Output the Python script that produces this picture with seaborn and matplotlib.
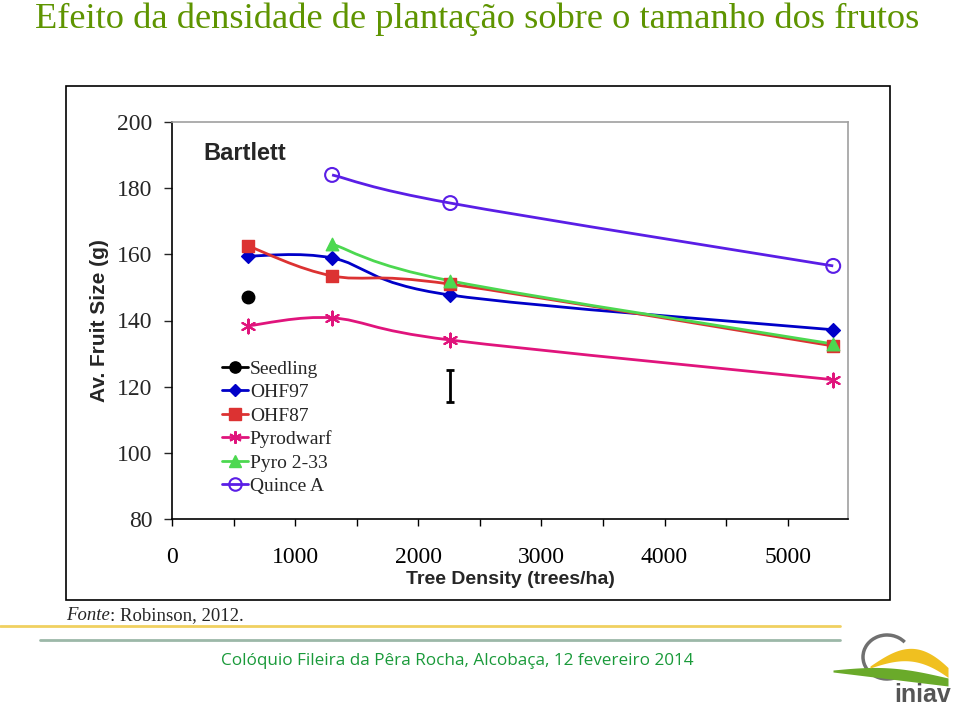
import numpy as np
import pandas as pd
import seaborn as sns
import matplotlib.pyplot as plt
from matplotlib.lines import Line2D
from matplotlib.patches import Arc, PathPatch
from matplotlib.path import Path

# dados (Robinson, 2012 - Bartlett)
seedling_x = [620]
seedling_y = [147.1]
ohf97_x = [620, 1300, 2260, 5370]
ohf97_y = [159.5, 158.9, 147.7, 137.2]
ohf87_x = [620, 1300, 2260, 5370]
ohf87_y = [162.5, 153.5, 151.0, 132.3]
pyrodwarf_x = [620, 1300, 2260, 5370]
pyrodwarf_y = [138.4, 140.8, 134.1, 122.1]
pyro233_x = [1300, 2260, 5370]
pyro233_y = [163.1, 152.0, 132.9]
quince_x = [1300, 2260, 5370]
quince_y = [184.0, 175.5, 156.5]

# barra LSD
lsd_x = 2260
lsd_center = 120.25
lsd_half = 4.85

series = ['Seedling', 'OHF97', 'OHF87', 'Pyrodwarf', 'Pyro 2-33', 'Quince A']
xs = [seedling_x, ohf97_x, ohf87_x, pyrodwarf_x, pyro233_x, quince_x]
ys = [seedling_y, ohf97_y, ohf87_y, pyrodwarf_y, pyro233_y, quince_y]

df = pd.concat([pd.DataFrame({'density': x, 'size': y, 'rootstock': s})
                for s, x, y in zip(series, xs, ys)], ignore_index=True)

cores = {'Seedling': '#000000', 'OHF97': '#0000C8', 'OHF87': '#DC3232',
         'Pyrodwarf': '#E0147C', 'Pyro 2-33': '#4CD850', 'Quince A': '#5A1EE6'}
marcadores = {'Seedling': 'o', 'OHF97': 'D', 'OHF87': 's',
              'Pyrodwarf': (6, 2, 0), 'Pyro 2-33': '^', 'Quince A': 'o'}
tam = {'Seedling': 9, 'OHF97': 7, 'OHF87': 9, 'Pyrodwarf': 10, 'Pyro 2-33': 9, 'Quince A': 10}


def linha_suave(x, y):
    # curva suavizada tipo Excel (Catmull-Rom em Bezier)
    p = np.column_stack([x, y]).astype(float)
    n = len(p)
    verts = [p[0]]
    codes = [Path.MOVETO]
    for i in range(n - 1):
        p0 = p[i - 1] if i > 0 else p[i]
        p3 = p[i + 2] if i + 2 < n else p[i + 1]
        verts += [p[i] + (p[i + 1] - p0) / 6, p[i + 1] - (p3 - p[i]) / 6, p[i + 1]]
        codes += [Path.CURVE4] * 3
    return Path(verts, codes)


sns.set_style('white')
plt.rcParams['font.family'] = ['Liberation Serif', 'DejaVu Serif']

fig = plt.figure(figsize=(9.6, 7.06), dpi=100)
ax = fig.add_axes([172/960, 1-519/706, (848-172)/960, (519-122)/706])

for s in series:
    d = df[df['rootstock'] == s]
    c = cores[s]
    if len(d) > 1:
        ax.add_patch(PathPatch(linha_suave(d['density'], d['size']), fc='none', ec=c, lw=2, zorder=3))
    mfc = 'none' if s == 'Quince A' else c
    sns.scatterplot(data=d, x='density', y='size', ax=ax, marker=marcadores[s],
                    s=tam[s] ** 2, color=mfc, edgecolor=c,
                    linewidth=1.5 if s in ('Quince A', 'Pyrodwarf') else 1,
                    legend=False, zorder=5)

ax.errorbar([lsd_x], [lsd_center], yerr=[lsd_half], fmt='none', ecolor='black',
            elinewidth=2, capsize=3, capthick=2)

ax.set_xlim(0, 5490)
ax.set_ylim(80, 200)
ax.set_xticks(np.arange(0, 5001, 1000))
ax.set_xticks(np.arange(0, 5001, 500), minor=True)
ax.set_yticks(np.arange(80, 201, 20))
ax.tick_params(axis='x', which='both', direction='out', length=5, width=1, pad=15,
               labelsize=17, bottom=True, colors='black')
ax.tick_params(axis='y', direction='out', length=6, width=1, pad=8, labelsize=17, left=True)
for sp in ['left', 'bottom']:
    ax.spines[sp].set_color('black')
    ax.spines[sp].set_linewidth(1.2)
for sp in ['top', 'right']:
    ax.spines[sp].set_color('#A0A0A0')
    ax.spines[sp].set_linewidth(1.2)

ax.set_xlabel('Tree Density (trees/ha)', fontfamily=['Liberation Sans Narrow', 'Liberation Sans'],
              fontweight='bold', fontsize=14, labelpad=2.5)
ax.set_ylabel('Av. Fruit Size (g)', fontfamily=['Liberation Sans', 'DejaVu Sans'],
              fontweight='bold', fontsize=15, labelpad=6)
ax.text(0.046, 0.92, 'Bartlett', transform=ax.transAxes, fontfamily=['Liberation Sans', 'DejaVu Sans'],
        fontweight='bold', fontsize=17, va='center')

handles = []
for s in series:
    c = cores[s]
    handles.append(Line2D([], [], color=c, lw=2, marker=marcadores[s],
                          ms=tam[s] * 0.9, mfc='none' if s == 'Quince A' else c, mec=c,
                          mew=1.5 if s in ('Quince A', 'Pyrodwarf') else 1))
ax.legend(handles, series, loc='upper left', bbox_to_anchor=(0.062, 0.42), frameon=False,
          fontsize=14, handlelength=1.35, handletextpad=0.1, labelspacing=0.3,
          borderaxespad=0)

# moldura do gráfico
fig.patches.append(plt.Rectangle((66/960, 1-600/706), (890-66)/960, (600-86)/706,
                                 transform=fig.transFigure, fill=False, ec='black', lw=1.2))

# título e rodapé
fig.text(35/960, 1-19/706, 'Efeito da densidade de plantação sobre o tamanho dos frutos',
         color='#5E9400', fontsize=26.2, va='center', ha='left')
t1 = fig.text(66/960, 1-616/706, 'Fonte', fontsize=13.5, va='center', style='italic')
fig.canvas.draw()
bb = t1.get_window_extent()
fig.text(bb.x1 / fig.bbox.width, 1-616/706, ': Robinson, 2012.', fontsize=13.5, va='center')
fig.add_artist(Line2D([0, 840/960], [1-626/706]*2, color='#F0D060', lw=2))
fig.add_artist(Line2D([40/960, 840/960], [1-640/706]*2, color='#9CB8A8', lw=2))
fig.text(457/960, 1-661/706, 'Colóquio Fileira da Pêra Rocha, Alcobaça, 12 fevereiro 2014',
         color='#1A9A3A', fontsize=12.3, ha='center', va='center',
         fontfamily=['Open Sans', 'DejaVu Sans'])

# logotipo simplificado
lg = fig.add_axes([830/960, 0, 130/960, 80/706])
lg.set_xlim(0, 130)
lg.set_ylim(0, 80)
lg.axis('off')
lg.add_patch(Arc((57, 49), 48, 44, theta1=40, theta2=320, color='#707070', lw=2.5))
tt = np.linspace(0, 1, 50)
lg.fill_between(3 + 115 * tt, 34 - 14 * tt, 36 + 6 * np.sin(np.pi * tt) - 8 * tt,
                color='#6AAA2A', lw=0)
lg.fill_between(40 + 78 * tt, 38 + 18 * np.sin(np.pi * tt * 0.8) - 20 * tt,
                40 + 28 * np.sin(np.pi * tt * 0.8) - 18 * tt,
                color='#F0C020', lw=0)
lg.text(93, 11, 'iniav', fontsize=18, fontweight='bold', color='#555555', ha='center', va='center',
        fontfamily=['Liberation Sans', 'DejaVu Sans'], zorder=5)

fig.savefig('out.png', dpi=100)
